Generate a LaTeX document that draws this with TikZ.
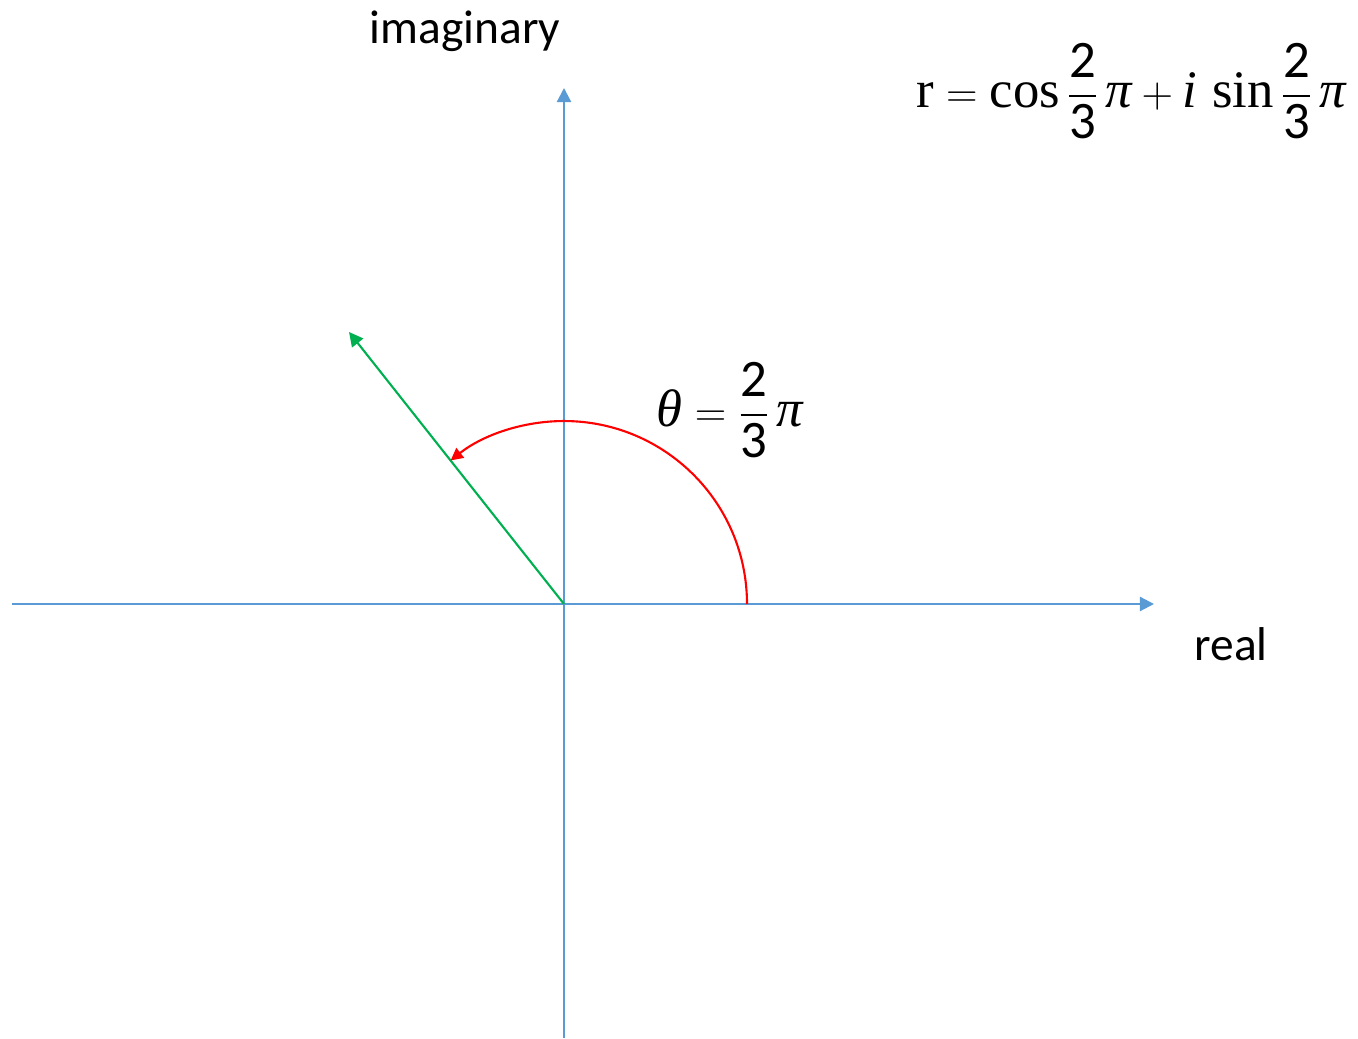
\documentclass[tikz,border=0pt]{standalone}
\usepackage{amsmath}
\usepackage{fontspec}
\setmainfont{Carlito}
\setmathrm{Liberation Serif}
\newfontfamily\mserif{Liberation Serif}
\usetikzlibrary{arrows.meta}
\definecolor{axisblue}{RGB}{91,155,213}
\definecolor{vecgreen}{RGB}{0,176,80}
\newcommand{\digfrac}[2]{\genfrac{}{}{1.3pt}{}{\textrm{#1}}{\textrm{#2}}}
\newcommand{\mv}[1]{\mbox{\mserif\itshape #1}}
\begin{document}
\begin{tikzpicture}[x=0.02cm,y=0.02cm,
  axis/.style={axisblue,line width=1.2pt,-{Triangle[length=8pt,width=8pt]}},
  vec/.style={vecgreen,line width=1.2pt,-{Triangle[length=8pt,width=8pt]}},
  angarc/.style={red,line width=1.2pt,-{Triangle[length=7pt,width=7pt]}},
  lbl/.style={inner sep=0pt,font=\fontsize{27}{32}\selectfont},
  mlbl/.style={inner sep=0pt,font=\fontsize{30}{36}\selectfont}]
\useasboundingbox (0,0) rectangle (1358,1038);
\coordinate (O) at (564,434);
\coordinate (xl) at (12,434);
\coordinate (xr) at (1154,434);
\coordinate (yb) at (564,0);
\coordinate (yt) at (564,950);
\coordinate (v) at (349,706);
\coordinate (a0) at (747,434);
\draw[axis] (xl) -- (xr);
\draw[axis] (yb) -- (yt);
\draw[vec] (O) -- (v);
\draw[angarc] (a0) arc[start angle=0,end angle=128.3,radius=3.66cm];
\node[lbl] (im) at (465,1007) {imaginary};
\node[lbl] (re) at (1231,394) {real};
\node[mlbl] (th) at (730,628) {$\displaystyle \mv{θ} = \digfrac{2}{3}\,\mv{π}$};
\node[mlbl] (form) at (1131,947) {$\displaystyle \mathrm{r} = \cos\digfrac{2}{3}\,\mv{π} + \mv{i}\,\sin\digfrac{2}{3}\,\mv{π}$};
\end{tikzpicture}
\end{document}
